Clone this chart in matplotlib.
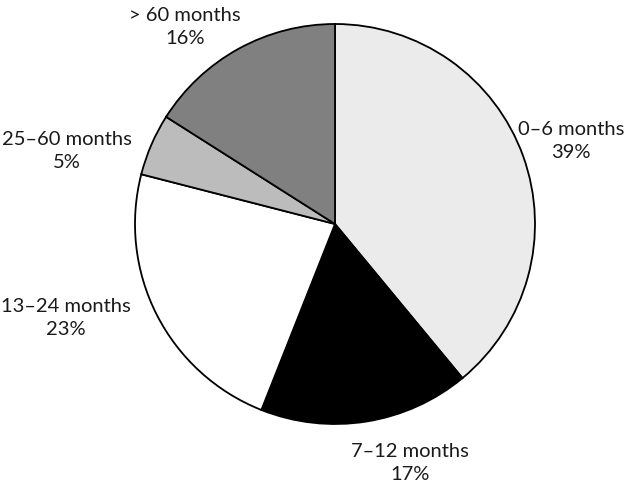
import matplotlib
matplotlib.use("Agg")
import matplotlib.pyplot as plt

categories = ["0–6 months", "7–12 months", "13–24 months", "25–60 months", "> 60 months"]
values = [39, 17, 23, 5, 16]
colors = ["#ebebeb", "#000000", "#ffffff", "#bcbcbc", "#808080"]
label_pos = [(1.18, 0.42), (0.375, -1.19), (-1.345, -0.465), (-1.34, 0.37), (-0.75, 0.99)]

fig = plt.figure(figsize=(6.4, 4.89), dpi=100)
ax = fig.add_axes([0, 0, 1, 1])
ax.pie(values, colors=colors, startangle=90, counterclock=False, radius=1.0,
       wedgeprops=dict(edgecolor="black", linewidth=1.3))
ax.set_xlim(-335/200, 305/200)
ax.set_ylim(-264/200, 225/200)
ax.set_aspect("equal")
ax.axis("off")

for cat, v, (x, y) in zip(categories, values, label_pos):
    ax.text(x, y, f"{cat}\n{v}%", ha="center", va="center", fontsize=14.5,
            family="Lato", linespacing=1.45, color="#1a1a1a")

fig.savefig("out.png", dpi=100, facecolor="white")
